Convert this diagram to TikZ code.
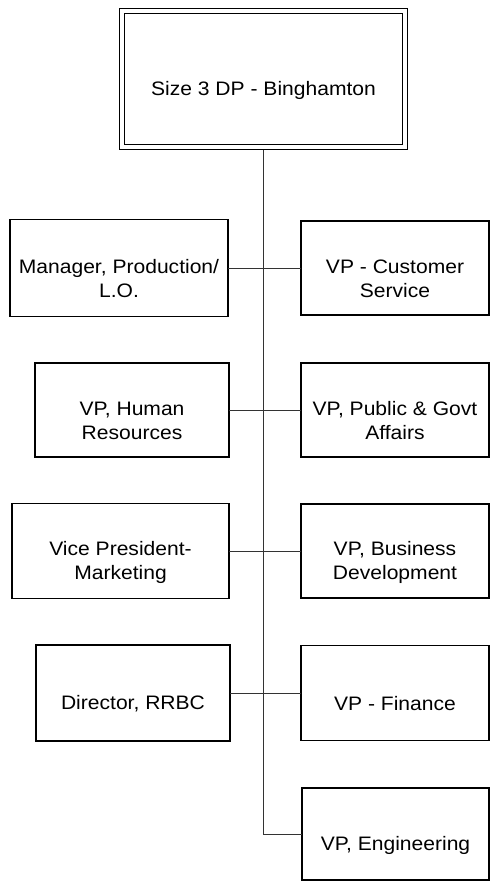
\documentclass[tikz,border=0pt]{standalone}
\usepackage{fontspec}
\newfontfamily\orgfont{Liberation Sans}[FakeStretch=1.08]
\usetikzlibrary{calc}

\begin{document}
\begin{tikzpicture}[x=1pt, y=-1pt,
                post/.style={draw, line width=1.6pt, inner sep=0pt, outer sep=0pt},
                title/.style={font=\orgfont\fontsize{19.5}{24}\selectfont, align=center, yshift=-11pt},
                link/.style={line width=0.9pt, black!80}]
                \useasboundingbox (0,0) rectangle (490,881);
                \node[post, double, line width=1.7pt, double distance=3.3pt, outer sep=3.35pt,
                    minimum width=283pt, minimum height=136pt] (top) at (263.5,79) {};
                \node[title] (top-t) at (top) {Size 3 DP - Binghamton};
                \foreach \name/\x/\y/\w/\h/\txt in {
                    mgr/119/268/218/97/{Manager, Production/\\L.O.},
                    hr/132/410/194/94/{VP, Human\\Resources},
                    mkt/120.5/551/217/95/{Vice President-\\Marketing},
                    rrbc/133/693/194/96/{Director, RRBC},
                    cust/395/268/188/94/{VP - Customer\\Service},
                    pub/395/410/188/94/{VP, Public \& Govt\\Affairs},
                    bus/395/551/188/94/{VP, Business\\Development},
                    fin/395/693/188/95/{VP - Finance},
                    eng/395.5/834/187/92/{VP, Engineering}}{
                        \node[post, minimum width=\w pt, minimum height=\h pt] (\name) at (\x,\y) {};
                        \node[title] (\name-t) at (\name) {\txt};
                    }
                \draw[link, line width=0.7pt] (top.south) |- (eng.west);
                \foreach \a/\b in {mgr/cust, hr/pub, mkt/bus, rrbc/fin}{
                    \draw[link] (\a.east) -- (\b.west);
                }
\end{tikzpicture}
\end{document}
